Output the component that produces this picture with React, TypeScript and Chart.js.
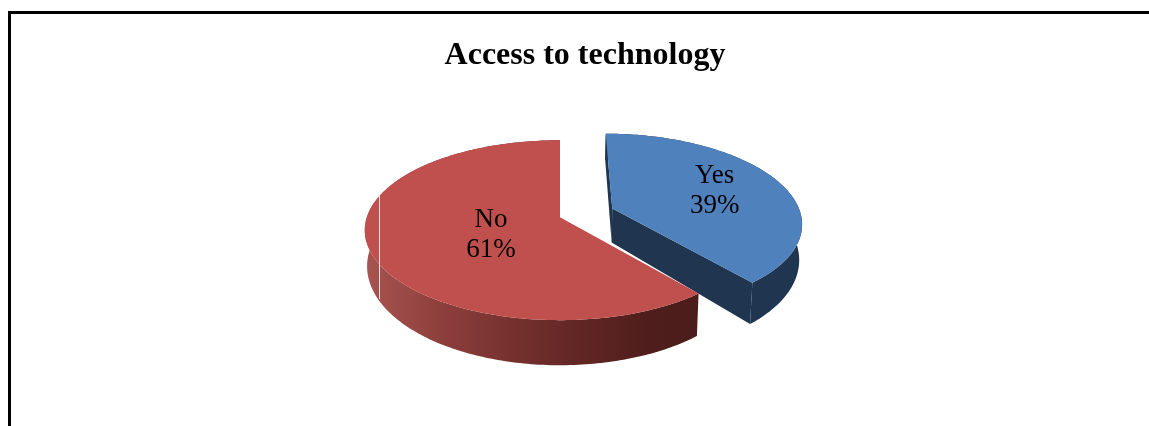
import React, { useEffect, useRef } from "react";
import { Chart, registerables } from "chart.js";

Chart.register(...registerables);

const chartTitle = "Access to technology";
const categories = ["Yes", "No"];
const shares = [39, 61];
const topColors = ["#4f81bd", "#c0504d"];
const explodeOffsets = [35, 0];
const sliceWidthScale = [0.98, 1];
const labelRadii = [0.61, 0.4];
const labelAngles = [70, 240];
const noWallStops: [number, string][] = [
  [0, "#a85350"],
  [0.25, "#8a3d3a"],
  [0.6, "#652826"],
  [0.85, "#4f1e1c"],
  [1, "#4b1d1b"],
];
const yesWallColor = "#1f3550";

// Camera model for the tilted, extruded pie (factors relative to the arc radius).
const WIDTH_FACTOR = 1.61;
const HEIGHT_FACTOR = 0.734;
const DEPTH_FACTOR = 0.29;
const PERSPECTIVE = 0.1444;
const BASE_SHRINK = 0.012;
const BASE_OPEN = 0.1;
const PIE_SHIFT_X = -25;

type Pt = { x: number; y: number };

function project(el: any, index: number, theta: number, r: number, z: number): Pt {
  const R = el.outerRadius;
  const off = (el.options.offset || 0) / R;
  const mid = (el.startAngle + el.endAngle) / 2 + Math.PI / 2;
  const X = r * Math.sin(theta) * sliceWidthScale[index] + off * Math.sin(mid);
  const Y = -r * Math.cos(theta) - off * Math.cos(mid);
  const s = 1 / (1 - PERSPECTIVE * Y);
  return {
    x: el.x + PIE_SHIFT_X + X * R * WIDTH_FACTOR * s * (1 - z * BASE_SHRINK),
    y: el.y + Y * R * HEIGHT_FACTOR * s * (1 + z * BASE_OPEN) + z * R * DEPTH_FACTOR,
  };
}

function rim(el: any, index: number, z: number): Pt[] {
  const a = el.startAngle + Math.PI / 2;
  const b = el.endAngle + Math.PI / 2;
  const n = Math.max(2, Math.ceil(((b - a) * 180) / Math.PI));
  const pts: Pt[] = [];
  for (let i = 0; i <= n; i++) pts.push(project(el, index, a + ((b - a) * i) / n, 1, z));
  return pts;
}

function fillPoly(ctx: CanvasRenderingContext2D, pts: Pt[], fill: string | CanvasGradient) {
  ctx.beginPath();
  pts.forEach((p, i) => (i ? ctx.lineTo(p.x, p.y) : ctx.moveTo(p.x, p.y)));
  ctx.closePath();
  ctx.fillStyle = fill;
  ctx.fill();
}

const deg = (d: number) => (d * Math.PI) / 180;

const pie3d = {
  id: "pie3d",
  beforeDatasetDraw(chart: any, args: any) {
    const ctx: CanvasRenderingContext2D = chart.ctx;
    const arcs = args.meta.data;
    ctx.save();
    // Exploded slice sits behind the other one.
    [0, 1].forEach((i) => {
      const el = arcs[i];
      const top = rim(el, i, 0);
      const bottom = rim(el, i, 1);
      let wall: string | CanvasGradient = yesWallColor;
      if (i === 1) {
        const left = el.x + PIE_SHIFT_X - el.outerRadius * WIDTH_FACTOR;
        const g = ctx.createLinearGradient(left, 0, top[0].x, 0);
        noWallStops.forEach(([s, c]) => g.addColorStop(s, c));
        wall = g;
      }
      const apexTop = project(el, i, 0, 0, 0);
      const apexBottom = project(el, i, 0, 0, 1);
      if (i === 0) {
        fillPoly(ctx, [apexTop, top[0], bottom[0], apexBottom], wall);
        fillPoly(ctx, [apexTop, top[top.length - 1], bottom[bottom.length - 1], apexBottom], wall);
      }
      fillPoly(ctx, [...top, ...bottom.slice().reverse()], wall);
      fillPoly(ctx, [apexTop, ...top], topColors[i]);

      // Seam on the far-left side of the larger slice.
      if (i === 1) {
        const seamTop = project(el, i, deg(284.5), 1, 0);
        const seamBottom = project(el, i, deg(243), 1, 1);
        ctx.fillStyle = "#f0e4e3";
        ctx.fillRect(Math.round(seamTop.x), seamTop.y, 1, seamBottom.y - seamTop.y);
      }
    });

    // Category name and share on each slice.
    ctx.fillStyle = "#000";
    ctx.font = '27px "Liberation Serif"';
    ctx.textAlign = "center";
    ctx.textBaseline = "middle";
    [0, 1].forEach((i) => {
      const p = project(arcs[i], i, deg(labelAngles[i]), labelRadii[i], 0);
      ctx.fillText(categories[i], p.x, p.y - 15);
      ctx.fillText(`${shares[i]}%`, p.x, p.y + 15);
    });
    ctx.restore();
    return false;
  },
};

export default function App() {
  const ref = useRef<HTMLCanvasElement>(null);
  useEffect(() => {
    const chart = new Chart(ref.current as HTMLCanvasElement, {
      type: "pie",
      data: {
        labels: categories,
        datasets: [
          {
            data: shares,
            backgroundColor: topColors,
            borderWidth: 0,
            offset: explodeOffsets,
          },
        ],
      },
      options: {
        animation: false,
        responsive: false,
        radius: 120,
        layout: { padding: { bottom: 73 } },
        plugins: {
          legend: { display: false },
          tooltip: { enabled: false },
          title: {
            display: true,
            text: chartTitle,
            color: "#000",
            font: { family: '"Liberation Serif"', size: 32, weight: "bold" },
            padding: { top: 37, bottom: 6 },
          },
        },
      },
      plugins: [pie3d],
    } as any);
    return () => chart.destroy();
  }, []);
  return (
    <div style={{ position: "fixed", inset: 0, overflow: "hidden", background: "#fff" }}>
      <canvas ref={ref} width={1170} height={426} style={{ position: "absolute", left: 0, top: 0, display: "block" }} />
      <div
        style={{
          position: "absolute",
          left: 8,
          top: 11,
          width: 1300,
          height: 600,
          borderTop: "3px solid #000",
          borderLeft: "3px solid #000",
        }}
      />
    </div>
  );
}
